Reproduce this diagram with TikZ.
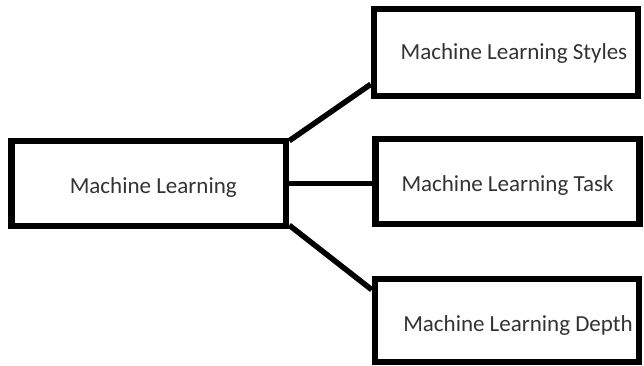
\documentclass[tikz,border=0pt]{standalone}
\usepackage{fontspec}
\setmainfont{Carlito}
\usetikzlibrary{positioning}
\tikzset{
    topic/.style={
        draw, line width=6.5pt, inner sep=0pt,
        minimum width=264pt, minimum height=85pt,
        font=\fontsize{23}{27}\selectfont, text=black!80,
        text depth=0pt,
    },
    % move the text inside its box: right by #1/2, down via text height #2
    nudge/.style 2 args={text height=#2, execute at begin node={\hspace*{#1}}},
    link/.style={line width=5.5pt},
}

\begin{document}
\begin{tikzpicture}[x=1pt, y=-1pt]
        \useasboundingbox (0,0) rectangle (644,366);
        \node[topic, nudge={9pt}{20.2pt}, minimum width=274.5pt] (ml) at (148.75,183.5) {Machine Learning};
        \node[topic, nudge={16pt}{14.8pt}, minimum height=87pt] (styles) at (506,52.5) {Machine Learning Styles};
        \node[topic, nudge={0pt}{19.8pt}] (task) at (507.5,181.5) {Machine Learning Task};
        \node[topic, nudge={22pt}{21.8pt}, minimum height=83pt] (depth) at (507,320.5) {Machine Learning Depth};

        \draw[link] ([yshift=-3pt]ml.north east) -- ([yshift=15pt]styles.south west);
        \draw[link] (ml.east) -- (ml.east -| task.west);
        \draw[link] ([yshift=4pt]ml.south east) -- ([yshift=-14pt]depth.north west);
    \end{tikzpicture}
\end{document}
